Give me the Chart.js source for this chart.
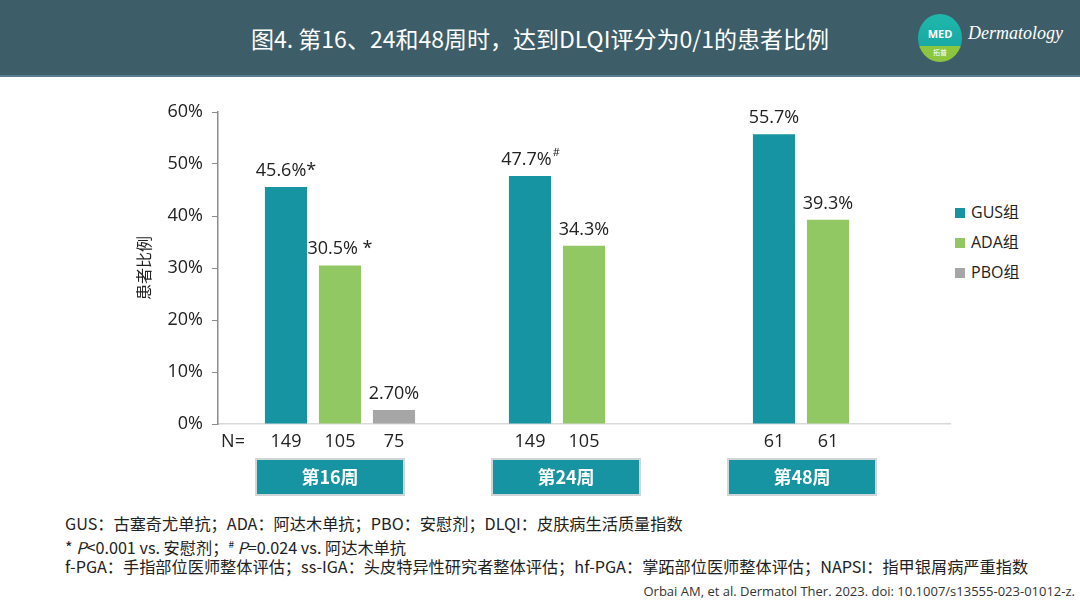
<!DOCTYPE html>
<html>
<head>
<meta charset="utf-8">
<script src="https://cdn.jsdelivr.net/npm/chart.js@4/dist/chart.umd.min.js"></script>
<style>
  body { margin: 0; width: 1080px; height: 608px; position: relative; background: #fff; overflow: hidden;
         font-family: "Open Sans", "Noto Sans CJK SC", sans-serif; color: #222; }
  .header { position: absolute; left: 0; top: 0; width: 1080px; height: 75px; background: #3d5e69;
            border-bottom: 2px solid #5b7c96; }
  .title { position: absolute; left: 0; width: 1080px; top: 21px; text-align: center; color: #fff;
           font-size: 23px; font-family: "Noto Sans CJK SC", sans-serif; }
  .logo { position: absolute; left: 918px; top: 14px; width: 44px; height: 48px; border-radius: 50%;
          background: linear-gradient(#1fb8ad 0%, #19a9a2 66%, #8cc63f 66%, #8cc63f 100%); }
  .logo .med { position: absolute; left: 0; width: 44px; top: 12px; text-align: center; color: #fff;
               font-size: 11px; font-weight: bold; font-family: "Open Sans", sans-serif; }
  .logo .tp { position: absolute; left: 0; width: 44px; top: 33px; text-align: center; color: #fff;
              font-size: 7px; font-family: "Noto Sans CJK SC", sans-serif; }
  .derm { position: absolute; left: 968px; top: 23px; color: #fff; font-style: italic; font-size: 18px;
          font-family: "Liberation Serif", serif; }
  #wrap { position: absolute; left: 130px; top: 92px; width: 825px; height: 410px; }
  .legend { position: absolute; left: 955px; top: 200px; font-size: 16px; }
  .legend div { height: 30px; line-height: 24px; }
  .legend span.sw { display: inline-block; width: 10px; height: 10px; margin-right: 6px; vertical-align: 0px; }
  .notes { position: absolute; left: 65px; top: 514px; font-size: 16.2px; line-height: 19.5px;
           font-family: "Noto Sans CJK SC", sans-serif; }
  .cite { position: absolute; right: 5px; top: 582px; font-size: 13px; color: #333; }
</style>
</head>
<body>
<div class="header">
  <div class="title">图4. 第16、24和48周时，达到DLQI评分为0/1的患者比例</div>
  <div class="logo"><div class="med">MED</div><div class="tp">拓普</div></div>
  <div class="derm">Dermatology</div>
</div>
<div id="wrap"><canvas id="chart"></canvas></div>
<div class="legend" id="legend"></div>
<div class="notes">
  <div>GUS：古塞奇尤单抗；ADA：阿达木单抗；PBO：安慰剂；DLQI：皮肤病生活质量指数</div>
  <div>* <i>P</i>&lt;0.001 vs. 安慰剂；<sup style="font-size:10px">#</sup> <i>P</i>=0.024 vs. 阿达木单抗</div>
  <div>f-PGA：手指部位医师整体评估；ss-IGA：头皮特异性研究者整体评估；hf-PGA：掌跖部位医师整体评估；NAPSI：指甲银屑病严重指数</div>
</div>
<div class="cite">Orbai AM, et al. Dermatol Ther. 2023. doi: 10.1007/s13555-023-01012-z.</div>
<script>
const weeks = ['第16周', '第24周', '第48周'];
const seriesNames = ['GUS组', 'ADA组', 'PBO组'];
const seriesColors = ['#1794a2', '#92c864', '#a6a6a6'];
const gusValues = [45.6, 47.7, 55.7];
const adaValues = [30.5, 34.3, 39.3];
const pboValues = [2.7, null, null];
const gusLabels = ['45.6%*', '47.7%', '55.7%'];
const adaLabels = ['30.5% *', '34.3%', '39.3%'];
const pboLabels = ['2.70%', '', ''];
const gusSup = ['', '#', ''];
const adaSup = ['', '', ''];
const pboSup = ['', '', ''];
const gusN = ['149', '149', '61'];
const adaN = ['105', '105', '61'];
const pboN = ['75', '', ''];
const yTicks = [0, 10, 20, 30, 40, 50, 60];

const labelSets = [gusLabels, adaLabels, pboLabels];
const supSets = [gusSup, adaSup, pboSup];
const nSets = [gusN, adaN, pboN];

// legend
const lg = document.getElementById('legend');
seriesNames.forEach((n, i) => {
  const d = document.createElement('div');
  d.innerHTML = '<span class="sw" style="background:' + seriesColors[i] + '"></span>' + n;
  lg.appendChild(d);
});

const annot = {
  id: 'annot',
  afterDatasetsDraw(chart) {
    const ctx = chart.ctx;
    const y = chart.scales.y;
    const x = chart.scales.x;
    ctx.save();
    ctx.fillStyle = '#222';
    chart.data.datasets.forEach((ds, di) => {
      const meta = chart.getDatasetMeta(di);
      meta.data.forEach((bar, i) => {
        if (ds.data[i] == null) return;
        const txt = labelSets[di][i];
        const sup = supSets[di][i];
        ctx.font = '18px "Open Sans", sans-serif';
        const w1 = ctx.measureText(txt).width;
        ctx.font = '11px "Open Sans", sans-serif';
        const w2 = sup ? ctx.measureText(sup).width : 0;
        const left = bar.x - (w1 + w2) / 2;
        ctx.textAlign = 'left';
        ctx.textBaseline = 'alphabetic';
        ctx.font = '18px "Open Sans", sans-serif';
        ctx.fillText(txt, left, bar.y - 11);
        if (sup) {
          ctx.font = '11px "Open Sans", sans-serif';
          ctx.fillText(sup, left + w1 + 1, bar.y - 20);
        }
        // N values
        ctx.font = '18px "Open Sans", sans-serif';
        ctx.textAlign = 'center';
        ctx.textBaseline = 'middle';
        ctx.fillText(nSets[di][i], bar.x, y.getPixelForValue(0) + 18);
      });
    });
    ctx.textAlign = 'center';
    ctx.textBaseline = 'middle';
    ctx.font = '18px "Open Sans", sans-serif';
    ctx.fillText('N=', chart.chartArea.left + 15, y.getPixelForValue(0) + 18);
    // week boxes
    weeks.forEach((wk, i) => {
      const cx = x.getPixelForValue(i) - 10 - 8 * i;
      const top = y.getPixelForValue(0) + 35;
      ctx.fillStyle = '#d0d6d8';
      ctx.fillRect(cx - 75, top - 1, 150, 38);
      ctx.fillStyle = '#1794a2';
      ctx.fillRect(cx - 73, top + 1, 146, 34);
      ctx.fillStyle = '#fff';
      ctx.font = 'bold 18px "Noto Sans CJK SC", sans-serif';
      ctx.fillText(wk, cx, top + 18);
    });
    ctx.restore();
  }
};

new Chart(document.getElementById('chart'), {
  type: 'bar',
  data: {
    labels: weeks,
    datasets: [
      { label: seriesNames[0], data: gusValues, backgroundColor: seriesColors[0] },
      { label: seriesNames[1], data: adaValues, backgroundColor: seriesColors[1] },
      { label: seriesNames[2], data: pboValues, backgroundColor: seriesColors[2] }
    ]
  },
  options: {
    responsive: true,
    maintainAspectRatio: false,
    animation: false,
    events: [],
    layout: { padding: { top: 20, bottom: 78, right: 5, left: 0 } },
    categoryPercentage: 0.664,
    barPercentage: 0.78,
    plugins: { legend: { display: false }, tooltip: { enabled: false } },
    scales: {
      x: {
        grid: { display: false, drawTicks: false },
        border: { display: true, color: '#d9d9d9', width: 1.5 },
        ticks: { display: false }
      },
      y: {
        min: 0, max: 60,
        afterBuildTicks: s => { s.ticks = yTicks.map(v => ({ value: v })); },
        afterFit: s => { s.width = 88; },
        grid: { drawOnChartArea: false, drawTicks: true, tickLength: 6, color: '#8c8c8c' },
        border: { display: true, color: '#8c8c8c', width: 1.5 },
        ticks: { color: '#222', font: { size: 18, family: '"Open Sans", sans-serif' }, padding: 9,
                 callback: v => v + '%' },
        title: { display: true, text: '患者比例', color: '#222',
                 font: { size: 16, family: '"Noto Sans CJK SC", sans-serif' } }
      }
    }
  },
  plugins: [annot]
});
</script>
</body>
</html>
